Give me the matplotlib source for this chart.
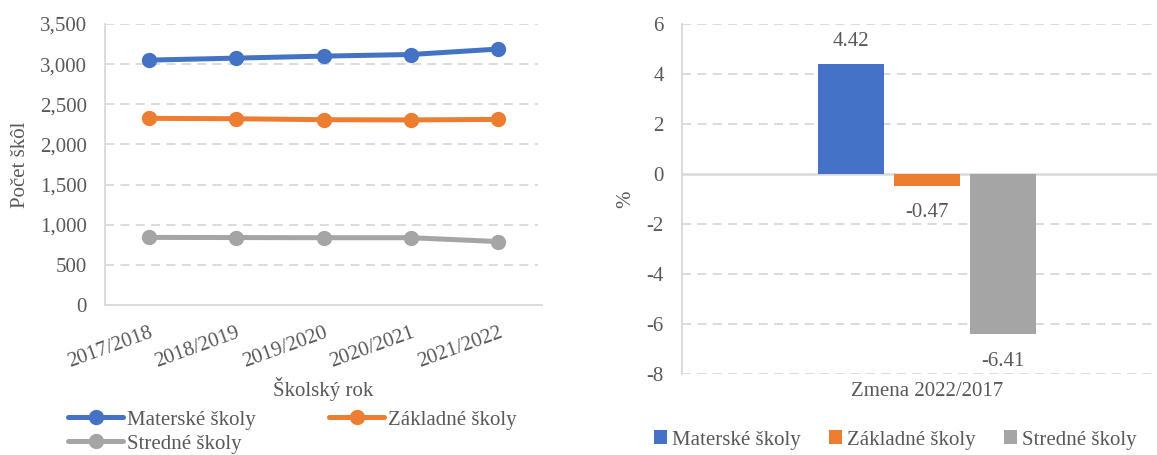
import matplotlib
matplotlib.use("Agg")
import matplotlib.pyplot as plt
from matplotlib.patches import Patch

# ---- data ----
years = ["2017/2018", "2018/2019", "2019/2020", "2020/2021", "2021/2022"]
materske = [3050, 3075, 3100, 3120, 3188]
zakladne = [2325, 2320, 2308, 2305, 2312]
stredne = [842, 840, 838, 838, 790]

series_names = ["Materské školy", "Základné školy", "Stredné školy"]
change_category = "Zmena 2022/2017"
change_values = [4.42, -0.47, -6.41]

colors = ["#4472C4", "#ED7D31", "#A5A5A5"]
TXT = "#595959"
GRID = "#D9D9D9"
FS = 15

plt.rcParams["font.family"] = ["Liberation Serif", "DejaVu Serif"]
plt.rcParams["axes.unicode_minus"] = False

W, H = 1157, 455
fig = plt.figure(figsize=(W / 100, H / 100), dpi=100)

def fx(px):
    return px / W

def fy(py):
    return 1 - py / H

# ---- left: line chart ----
ax1 = fig.add_axes([fx(105), fy(305), fx(542 - 105), fy(24) - fy(305)])
xs = list(range(len(years)))
lines = []
for vals, name, c in zip([materske, zakladne, stredne], series_names, colors):
    ln, = ax1.plot(xs, vals, color=c, lw=3.6, marker="o", markersize=10,
                   solid_capstyle="round", label=name, zorder=3)
    lines.append(ln)
ax1.set_xlim(-0.5, len(years) - 0.5)
ax1.set_ylim(0, 3500)
ax1.set_yticks(range(0, 3501, 500))
ax1.set_yticklabels([f"{v:,}" for v in range(0, 3501, 500)])
ax1.set_xticks(xs)
ax1.set_xticklabels(years, rotation=20, ha="right", rotation_mode="anchor")
ax1.tick_params(axis="both", length=0, labelsize=FS, colors=TXT)
ax1.tick_params(axis="y", pad=13)
ax1.tick_params(axis="x", pad=13)
for v in range(500, 3501, 500):
    ax1.axhline(v, xmax=0.99, color=GRID, lw=1.3, ls=(0, (5, 3.5)), zorder=1)
for s in ["top", "right"]:
    ax1.spines[s].set_visible(False)
for s in ["left", "bottom"]:
    ax1.spines[s].set_color(GRID)
    ax1.spines[s].set_linewidth(1.3)
ax1.set_ylabel("Počet škôl", fontsize=FS, color=TXT, labelpad=7)
ax1.set_xlabel("Školský rok", fontsize=FS, color=TXT, labelpad=4)

# row-wise legend order for ncol=2 (matplotlib fills columns first)
leg1 = fig.legend(handles=[lines[0], lines[2], lines[1]], loc="upper left",
                  bbox_to_anchor=(fx(68), fy(410)), ncol=2, frameon=False,
                  fontsize=FS, handlelength=2.65, handletextpad=0.2,
                  columnspacing=3.5, labelspacing=0.22, borderaxespad=0,
                  borderpad=0)
for t in leg1.get_texts():
    t.set_color(TXT)

# ---- right: bar chart ----
ax2 = fig.add_axes([fx(682), fy(374), fx(1172 - 682), fy(24) - fy(374)])
bw = 0.1347
step = 0.155
offsets = [-step, 0, step]
for v, off, c, name in zip(change_values, offsets, colors, series_names):
    ax2.bar(off, v, width=bw, color=c, label=name, zorder=3)
    if v >= 0:
        ax2.annotate(f"{v:.2f}", (off, v), xytext=(0, 15.5), textcoords="offset points",
                     ha="center", va="center", fontsize=FS, color=TXT)
    else:
        ax2.annotate(f"{v:.2f}", (off, v), xytext=(0, -19.5), textcoords="offset points",
                     ha="center", va="center", fontsize=FS, color=TXT)
ax2.set_xlim(-0.5, 0.5)
ax2.set_ylim(-8, 6)
ax2.set_yticks(range(-8, 7, 2))
ax2.set_xticks([0])
ax2.set_xticklabels([change_category])
ax2.tick_params(axis="both", length=0, labelsize=FS, colors=TXT)
ax2.tick_params(axis="y", pad=13)
ax2.tick_params(axis="x", pad=6)
for v in range(-8, 7, 2):
    if v != 0:
        ax2.axhline(v, color=GRID, lw=1.3, ls=(0, (5, 3.5)), zorder=1)
ax2.axhline(0, color=GRID, lw=1.8, zorder=2)
for s in ["top", "right", "bottom"]:
    ax2.spines[s].set_visible(False)
ax2.spines["left"].set_color(GRID)
ax2.spines["left"].set_linewidth(1.3)
ax2.set_ylabel("%", fontsize=FS, color=TXT, labelpad=8)

handles2 = [Patch(facecolor=c, label=n) for c, n in zip(colors, series_names)]
leg2 = fig.legend(handles=handles2, loc="center left",
                  bbox_to_anchor=(fx(654), fy(440)), ncol=3, frameon=False,
                  fontsize=FS, handlelength=0.62, handleheight=0.62,
                  handletextpad=0.25, columnspacing=1.36, borderaxespad=0,
                  borderpad=0)
for t in leg2.get_texts():
    t.set_color(TXT)

fig.savefig("out.png", dpi=100)
